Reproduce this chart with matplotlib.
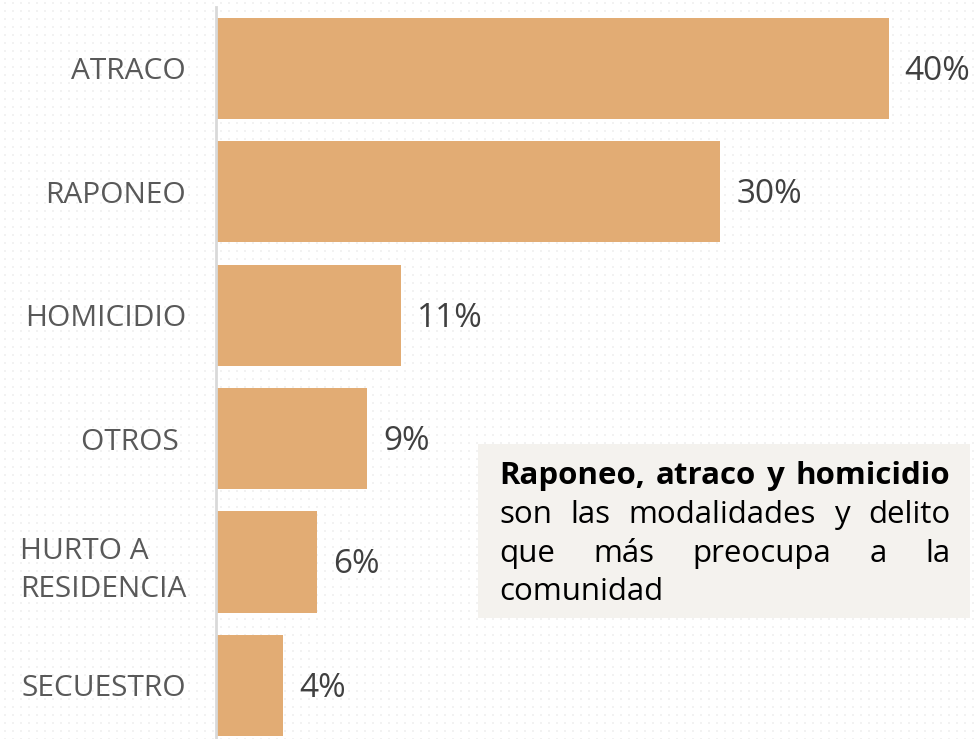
import matplotlib
matplotlib.use("Agg")
import matplotlib.pyplot as plt
import numpy as np
from matplotlib.patches import Rectangle

categories = ["ATRACO", "RAPONEO", "HOMICIDIO", "OTROS ", "HURTO A\nRESIDENCIA", "SECUESTRO"]
values = [40, 30, 11, 9, 6, 4]
value_labels = ["40%", "30%", "11%", "9%", "6%", "4%"]

bold_line = "Raponeo, atraco y homicidio"
body_lines = ["son las modalidades y delito", "que más preocupa a la", "comunidad"]

FONT = "Open Sans"
plt.rcParams["font.family"] = [FONT, "DejaVu Sans"]

W, H = 976, 739
fig = plt.figure(figsize=(W / 100, H / 100), dpi=100)
fig.patch.set_facecolor("white")

# faint dotted background texture
tex = np.ones((H, W, 3))
for r in range(2, H, 8):
    for c in range(4, W, 8):
        tex[r:r + 2, c:c + 2] = 0.95
bg = fig.add_axes([0, 0, 1, 1], zorder=-5)
bg.imshow(tex, aspect="auto", interpolation="nearest")
bg.axis("off")

ax = fig.add_axes([216 / W, 0, 1 - 216 / W, 1 - 7 / H], zorder=1)
ax.set_facecolor("none")
ypos = list(range(len(categories)))
ax.barh(ypos, values, height=0.82, color="#E2AC74", zorder=2)
ax.set_xlim(0, 45.2)
ax.set_ylim(len(categories) - 1 + 0.434, -0.498)

for s in ["top", "right", "bottom"]:
    ax.spines[s].set_visible(False)
ax.spines["left"].set_color("#D9D9D9")
ax.spines["left"].set_linewidth(2)
ax.set_xticks([])
ax.set_yticks(ypos)
ax.set_yticklabels(categories, fontsize=21.5, color="#595959")
ax.tick_params(axis="y", length=0, pad=21.5)
for lab in ax.get_yticklabels():
    lab.set_multialignment("left")
    lab.set_linespacing(1.45)

for y, v, t in zip(ypos, values, value_labels):
    ax.annotate(t, (v, y), xytext=(11.5, -2), textcoords="offset points",
                ha="left", va="center", fontsize=24, color="#404040")

# callout box
fig.patches.append(Rectangle((478 / W, 1 - 618 / H), (970 - 478) / W, (618 - 444) / H,
                             transform=fig.transFigure, facecolor="#F4F2EE",
                             edgecolor="none", zorder=3))

fig.canvas.draw()
renderer = fig.canvas.get_renderer()
x0, x1 = 499, 950
fs = 22.5
baselines = [484, 523, 562, 600]


def place_line(words, ybase, weight, justify):
    if not justify:
        fig.text(x0 / W, 1 - ybase / H, " ".join(words), fontsize=fs, weight=weight,
                 ha="left", va="baseline", color="black", zorder=4)
        return
    texts = [fig.text(0, 0, w, fontsize=fs, weight=weight, ha="left", va="baseline",
                      color="black", zorder=4) for w in words]
    widths = [t.get_window_extent(renderer).width for t in texts]
    gap = (x1 - x0 - sum(widths)) / (len(words) - 1)
    x = x0
    for t, w in zip(texts, widths):
        t.set_position((x / W, 1 - ybase / H))
        x += w + gap


place_line(bold_line.split(), baselines[0], "bold", True)
place_line(body_lines[0].split(), baselines[1], "normal", True)
place_line(body_lines[1].split(), baselines[2], "normal", True)
place_line([body_lines[2]], baselines[3], "normal", False)

fig.savefig("out.png", dpi=100, facecolor="white")
